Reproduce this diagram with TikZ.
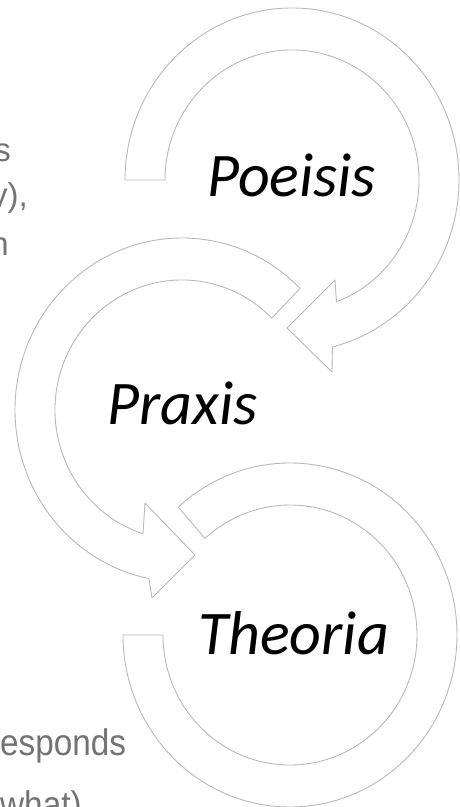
\documentclass[tikz,border=0pt]{standalone}
\usepackage{fontspec}
\usepackage{tikz}
\newfontfamily\ringfont{Carlito}
\newfontfamily\notefont{Liberation Sans}
\newfontfamily\tallnotefont[FakeStretch=0.9]{Liberation Sans}

\begin{document}
\begin{tikzpicture}[
  x=1pt, y=1pt,
  ring/.style={draw=gray!55, fill=white, line width=0.9pt, line join=round},
  word/.style={font=\ringfont\itshape\fontsize{62}{62}\selectfont,
               anchor=base west, inner sep=0pt},
  note/.style={font=\notefont\fontsize{33}{40}\selectfont, text=black!55,
               inner sep=0pt},
  tallnote/.style={font=\tallnotefont\fontsize{37}{44}\selectfont,
                   text=black!55, inner sep=0pt, anchor=base west}
]
\fill[white] (0,0) rectangle (459,807);
\useasboundingbox (0,0) rectangle (459,807);

%% --- oberer Pfeil: Poeisis ---
\begin{scope}[shift={(292,627)}]
  \draw[ring] (180:167 and 172)
    arc[start angle=180, end angle=-76, x radius=167, y radius=172]
    -- (40,-192) -- (-5,-148) -- (43,-100) -- (-69.5:127 and 130)
    arc[start angle=-69.5, end angle=180, x radius=127, y radius=130]
    -- cycle;
\end{scope}

%% --- mittlerer Pfeil: Praxis ---
\begin{scope}[shift={(182,397)}]
  \draw[ring] (45:167 and 172)
    arc[start angle=45, end angle=258.6, x radius=167, y radius=172]
    -- (-30,-188) -- (13,-145) -- (-37,-93) -- (252.1:127 and 130)
    arc[start angle=252.1, end angle=45, x radius=127, y radius=130]
    -- cycle;
\end{scope}

%% --- unterer Ring: Theoria ---
\begin{scope}[shift={(290,172)}]
  \draw[ring] (132:167 and 172)
    arc[start angle=132, end angle=-180, x radius=167, y radius=172]
    -- (-180:127 and 130)
    arc[start angle=-180, end angle=132, x radius=127, y radius=130]
    -- cycle;
\end{scope}

%% --- Beschriftungen ---
\node[word] (poeisis) at (207,610) {Poeisis};
\node[word] (praxis)  at (107,382) {Praxis};
\node[word] (theoria) at (198,152) {Theoria};

%% --- abgeschnittener Text links ---
\node[note, anchor=base east] (noteA) at (11,645) {s};
\node[note, anchor=base east] (noteB) at (28,600) {y),};
\node[note, anchor=base east] (noteC) at (9,551)  {n};
\node[tallnote] (noteD) at (0,52)  {esponds};
\node[tallnote] (noteE) at (0,-10) {what)};
\end{tikzpicture}
\end{document}
